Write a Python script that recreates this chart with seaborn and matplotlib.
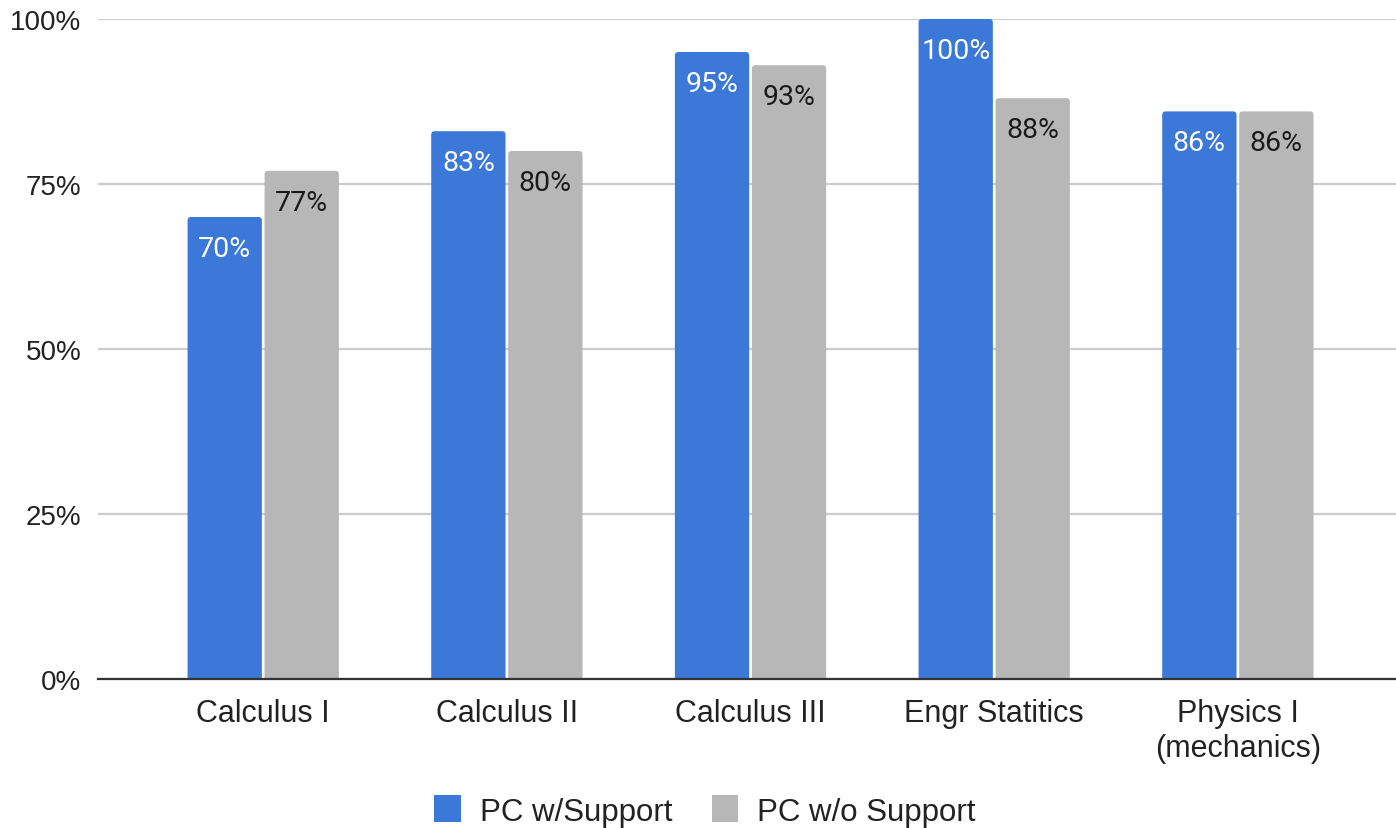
import matplotlib
matplotlib.use("Agg")
import matplotlib.pyplot as plt
from matplotlib.patches import FancyBboxPatch, Patch
import seaborn as sns
import pandas as pd

courses = ["Calculus I", "Calculus II", "Calculus III", "Engr Statitics", "Physics I\n(mechanics)"]
with_support = [70, 83, 95, 100, 86]
without_support = [77, 80, 93, 88, 86]
series = ["PC w/Support", "PC w/o Support"]
colors = ["#3c78d8", "#b7b7b7"]
label_colors = ["white", "#1a1a1a"]
yticks = [0, 25, 50, 75, 100]

df = pd.DataFrame({
    "course": courses * 2,
    "series": [series[0]] * len(courses) + [series[1]] * len(courses),
    "value": with_support + without_support,
})

sns.set_theme(style="white")
plt.rcParams["font.family"] = ["Liberation Sans", "DejaVu Sans"]

fig = plt.figure(figsize=(13.96, 8.29), dpi=100)
ax = fig.add_axes([98 / 1396, 1 - 680 / 829, 1 - 98 / 1396, (680 - 20) / 829])

sns.barplot(data=df, x="course", y="value", hue="series", palette=colors,
            width=0.632, gap=0.035, ax=ax, legend=False, saturation=1)

ax.set_ylim(0, 100)
ax.set_xlim(-0.678, 4.649)
ax.set_yticks(yticks)
ax.set_yticklabels([f"{t}%" for t in yticks], fontsize=20, color="#222222")
ax.tick_params(axis="x", labelsize=22, colors="#222222", length=0, pad=14)
ax.tick_params(axis="y", length=0, pad=12)
for t in ax.get_xticklabels():
    t.set_linespacing(1.2)
ax.set_xlabel("")
ax.set_ylabel("")
ax.grid(axis="y", color="#cccccc", linewidth=1.6)
ax.set_axisbelow(True)
for s in ["top", "right", "left"]:
    ax.spines[s].set_visible(False)
ax.spines["bottom"].set_color("#333333")
ax.spines["bottom"].set_linewidth(1.6)
ax.spines["bottom"].set_zorder(5)

# rounded tops on the bars, labels inside near the top
bars = list(ax.patches)
for i, p in enumerate(bars):
    k = i // len(courses)
    x, w, h = p.get_x(), p.get_width(), p.get_height()
    p.set_visible(False)
    rx = 3.5 / 243.5
    aspect = (3.5 / 6.6) / rx
    fb = FancyBboxPatch((x + rx, -3), w - 2 * rx, h + 3 - rx * aspect,
                        boxstyle=f"round,pad={rx},rounding_size={rx}",
                        mutation_aspect=aspect, facecolor=colors[k],
                        edgecolor="none", zorder=3, clip_on=True)
    ax.add_patch(fb)
    ax.annotate(f"{h:.0f}%", (x + w / 2, h), xytext=(0, -22.5),
                textcoords="offset points", ha="center", va="center",
                fontsize=20.5, color=label_colors[k], family="Roboto", zorder=4)

handles = [Patch(facecolor=c, edgecolor="none") for c in colors]
fig.legend(handles, series, loc="center", bbox_to_anchor=(0.505, 1 - 812 / 829),
           ncol=2, frameon=False, fontsize=22.5, handlelength=0.85, handleheight=0.95,
           handletextpad=0.6, columnspacing=1.26, labelcolor="#222222")

fig.savefig("out.png", dpi=100)
